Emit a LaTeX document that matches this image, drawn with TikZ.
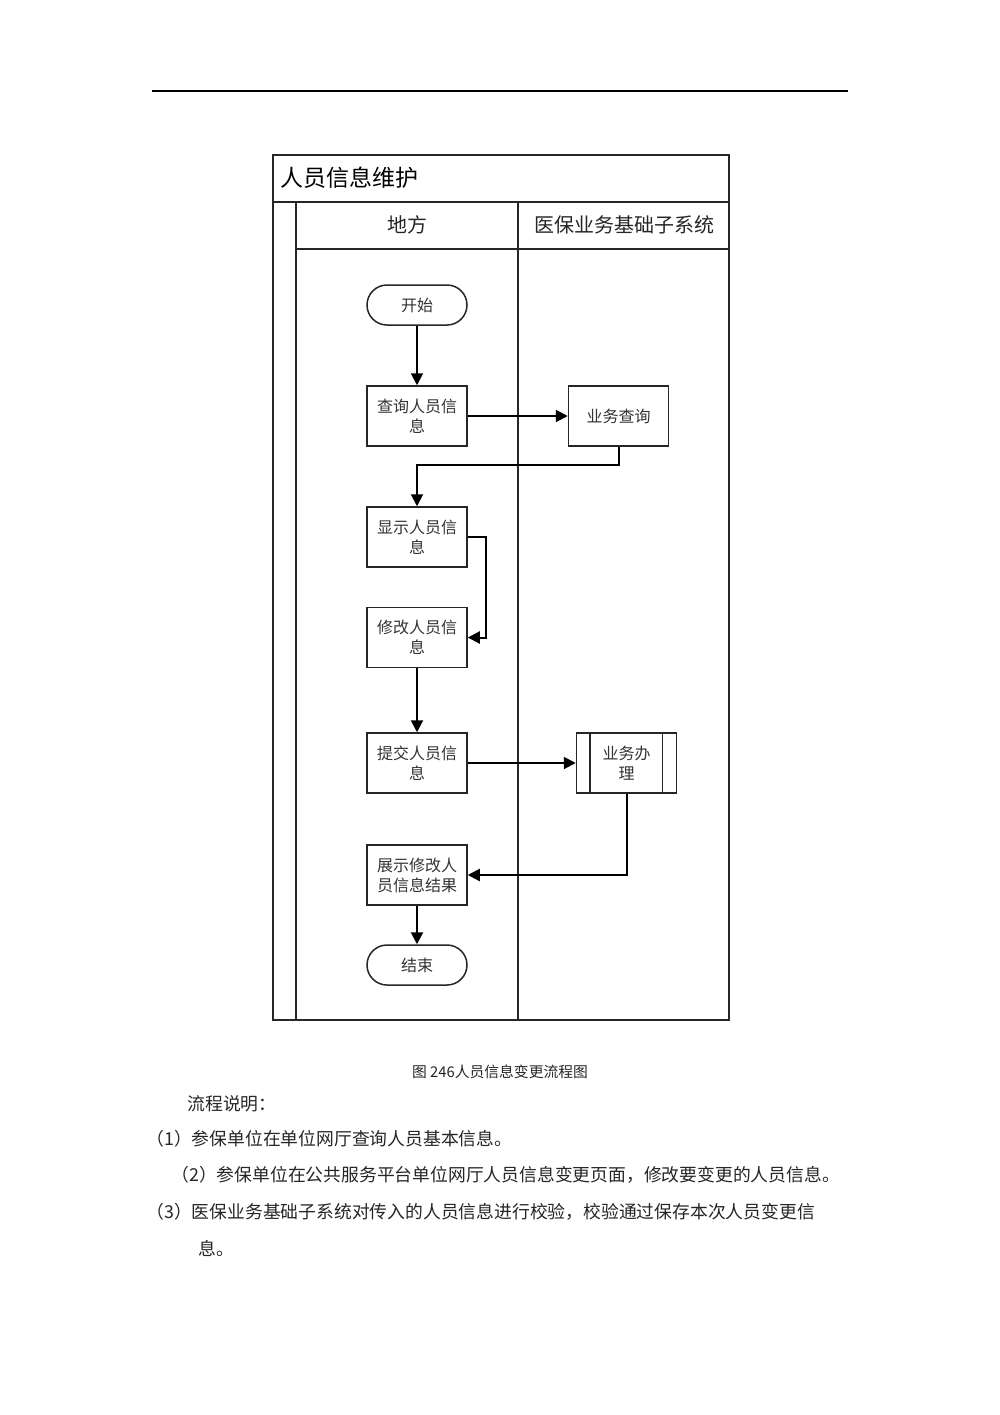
\documentclass[tikz,border=0pt]{standalone}
\usepackage{fontspec}
\setmainfont{Noto Sans CJK SC}
\usetikzlibrary{arrows.meta}
\begin{document}
\begin{tikzpicture}[x=0.5pt,y=-0.5pt,
  frameline/.style={draw=black!85, line width=0.8pt},
  procbox/.style={draw=black!85, line width=0.75pt, minimum width=50pt, minimum height=30pt, inner sep=0pt, align=center, font=\fontsize{8}{10}\selectfont, text=black!80},
  termbox/.style={draw=black!85, line width=0.75pt, minimum width=50pt, minimum height=20pt, rounded corners=10pt, inner sep=0pt, align=center, font=\fontsize{8}{10}\selectfont, text=black!80},
  flow/.style={draw=black, line width=1pt, -{Triangle[length=6pt,width=6pt]}},
  bodytext/.style={anchor=west, inner sep=0pt, font=\fontsize{8.9}{10}\selectfont, text=black!85},
]
\useasboundingbox (0,0) rectangle (1000,1415);
\fill[white] (0,0) rectangle (1000,1415);
% page rule
\coordinate (r1) at (152,91);
\coordinate (r2) at (848,91);
\draw[line width=0.75pt] (r1) -- (r2);
% pool frame
\draw[frameline] (273,155) rectangle (729,1020);
\draw[frameline] (273,202) -- (729,202);
\draw[frameline] (296,202) -- (296,1020);
\draw[frameline] (518,202) -- (518,1020);
\draw[frameline] (296,249) -- (729,249);
\node[anchor=west, inner sep=0pt, font=\fontsize{11.5}{12}\selectfont] (title) at (280,178) {人员信息维护};
\node[inner sep=0pt, font=\fontsize{10}{12}\selectfont, text=black!85] (lane1) at (407,225) {地方};
\node[inner sep=0pt, font=\fontsize{10}{12}\selectfont, text=black!85] (lane2) at (624,225) {医保业务基础子系统};
% nodes
\node[termbox] (start) at (417,305) {开始};
\node[procbox] (cx) at (417,416) {查询人员信\\息};
\node[procbox] (yq) at (618.5,416) {业务查询};
\node[procbox] (xs) at (417,537) {显示人员信\\息};
\node[procbox] (xg) at (417,637.5) {修改人员信\\息};
\node[procbox] (tj) at (417,763) {提交人员信\\息};
\node[procbox] (bl) at (626.5,763) {业务办\\理};
\draw[black!85, line width=0.75pt] (bl.north west) ++(14,0) -- ++(0,60);
\draw[black!85, line width=0.75pt] (bl.north east) ++(-15,0) -- ++(0,60);
\node[procbox] (zs) at (417,875) {展示修改人\\员信息结果};
\node[termbox] (end) at (417,965) {结束};
% connectors
\draw[flow] (start) -- (cx);
\draw[flow] (cx) -- (yq);
\draw[flow] (yq.south) -- ++(0,18) -| (xs.north);
\draw[flow] (xs.east) -- ++(18,0) |- (xg.east);
\draw[flow] (xg) -- (tj);
\draw[flow] (tj) -- (bl);
\draw[flow] (bl.south) |- (zs.east);
\draw[flow] (zs) -- (end);
% caption and text
\node[inner sep=0pt, font=\fontsize{7.4}{9}\selectfont, text=black!85] (cap) at (500,1072) {图 246人员信息变更流程图};
\node[bodytext] (t0) at (187,1104) {流程说明：};
\node[bodytext] (t1) at (146,1139) {（1）参保单位在单位网厅查询人员基本信息。};
\node[bodytext] (t2) at (171,1175) {（2）参保单位在公共服务平台单位网厅人员信息变更页面，修改要变更的人员信息。};
\node[bodytext] (t3) at (146,1212) {（3）医保业务基础子系统对传入的人员信息进行校验，校验通过保存本次人员变更信};
\node[bodytext] (t4) at (198,1248) {息。};
\end{tikzpicture}
\end{document}
